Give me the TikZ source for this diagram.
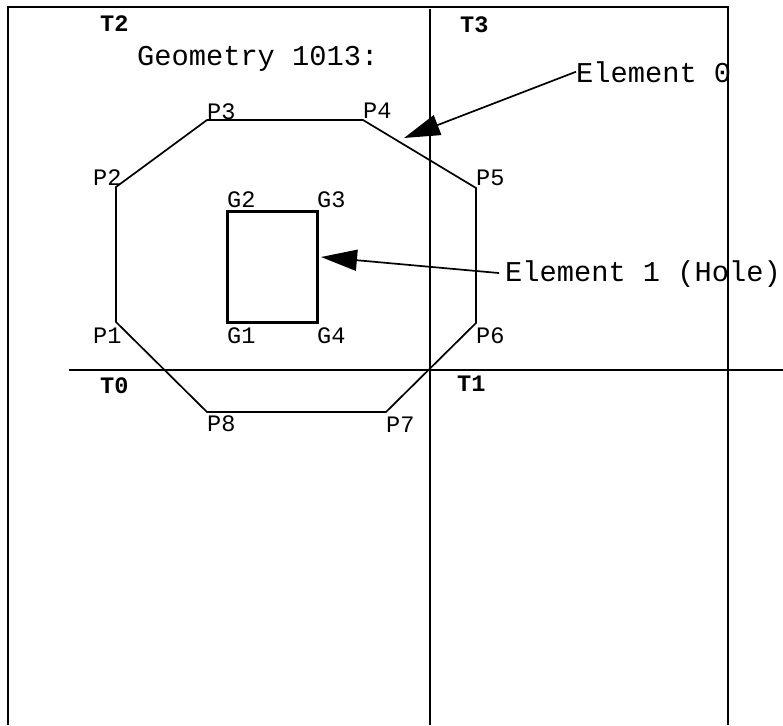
\documentclass[tikz,border=0pt]{standalone}
\usepackage{fontspec}
\setmonofont{Liberation Mono}
\usepackage{tikz}
\usetikzlibrary{arrows.meta}

\tikzset{
  gridline/.style={black, line width=1.6pt},
  outline/.style={black, line width=1.7pt, line join=miter},
  holeline/.style={black, line width=3pt},
  ptlabel/.style={font=\ttfamily\fontsize{23.6}{24}\selectfont, anchor=base west, inner sep=0pt},
  tilelabel/.style={font=\ttfamily\bfseries\fontsize{23.6}{24}\selectfont, anchor=base west, inner sep=0pt},
  callout/.style={font=\ttfamily\fontsize{28.7}{29}\selectfont, anchor=base west, inner sep=0pt},
  pointer/.style={black, line width=1.7pt, -{Triangle[length=36pt, width=21pt]}}
}

\begin{document}
\begin{tikzpicture}[x=1pt, y=-1pt]
  \useasboundingbox (0,0) rectangle (783,725);
  % tiles
  \draw[gridline] (8,725) -- (8,7) -- (728,7) -- (728,725);
  \draw[gridline] (430,9) -- (430,725);
  \draw[gridline] (69,370) -- (783,370);
  \node[tilelabel] (t2) at (100,32) {T2};
  \node[tilelabel] (t3) at (460,33) {T3};
  \node[tilelabel] (t0) at (100,393) {T0};
  \node[tilelabel] (t1) at (457,391) {T1};
  % element 0
  \coordinate (P1) at (116,322);
  \coordinate (P2) at (116,187);
  \coordinate (P3) at (207,120);
  \coordinate (P4) at (363,120);
  \coordinate (P5) at (476,188);
  \coordinate (P6) at (476,323);
  \coordinate (P7) at (386,412);
  \coordinate (P8) at (207,412);
  \draw[outline] (P1) -- (P2) -- (P3) -- (P4) -- (P5) -- (P6) -- (P7) -- (P8) -- cycle;
  % element 1 (hole)
  \coordinate (G1) at (227,322);
  \coordinate (G2) at (227,211);
  \coordinate (G3) at (317,211);
  \coordinate (G4) at (317,322);
  \draw[holeline] (G1) -- (G2) -- (G3) -- (G4) -- cycle;
  % point labels
  \node[ptlabel] (p1) at (93,343) {P1};
  \node[ptlabel] (p2) at (93,185) {P2};
  \node[ptlabel] (p3) at (207,119) {P3};
  \node[ptlabel] (p4) at (363,118) {P4};
  \node[ptlabel] (p5) at (476,185) {P5};
  \node[ptlabel] (p6) at (476,343) {P6};
  \node[ptlabel] (p7) at (386,432) {P7};
  \node[ptlabel] (p8) at (207,431) {P8};
  \node[ptlabel] (g1) at (227,343) {G1};
  \node[ptlabel] (g2) at (227,207) {G2};
  \node[ptlabel] (g3) at (317,207) {G3};
  \node[ptlabel] (g4) at (317,343) {G4};
  % callouts
  \node[callout] (geom) at (137,65) {Geometry 1013:};
  \node[callout] (elem0) at (576,82) {Element 0};
  \node[callout] (elem1) at (505,281) {Element 1 (Hole)};
  \coordinate (tip0) at (404,138);
  \coordinate (tip1) at (321,257);
  \draw[pointer] (elem0.west) -- (tip0);
  \draw[pointer, shorten <=6pt] (elem1.west) -- (tip1);
\end{tikzpicture}
\end{document}
